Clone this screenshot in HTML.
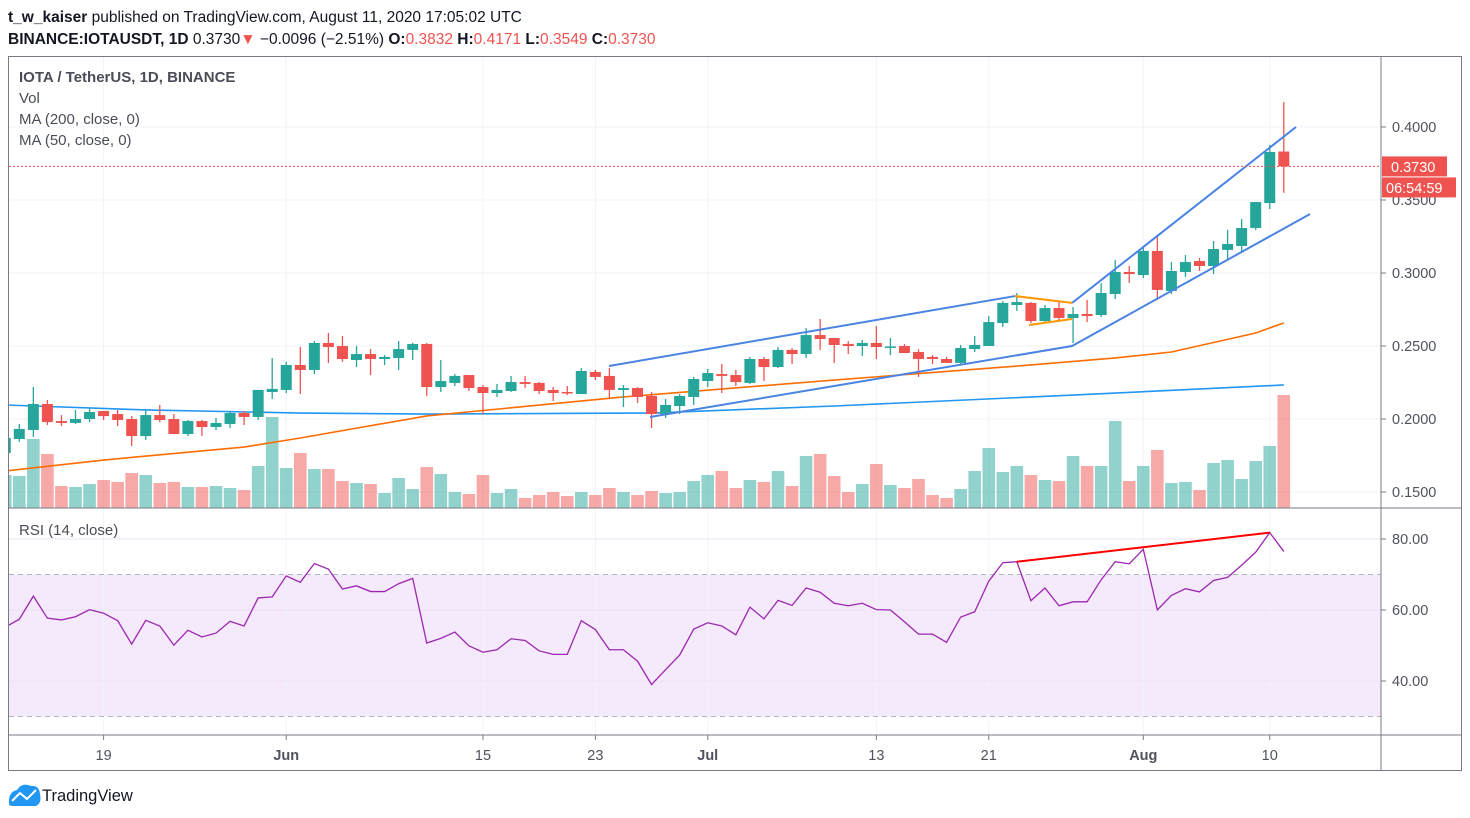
<!DOCTYPE html>
<html><head><meta charset="utf-8"><style>
html,body{margin:0;padding:0;background:#fff;width:1470px;height:818px;overflow:hidden}
svg{display:block;font-family:"Liberation Sans",sans-serif}
</style></head><body>
<svg id="chart" width="1470" height="818" viewBox="0 0 1470 818">
<defs>
<clipPath id="pclip"><rect x="9" y="57" width="1372" height="451"/></clipPath>
<clipPath id="rclip"><rect x="9" y="508" width="1372" height="227"/></clipPath>
</defs>
<text x="8" y="22" font-size="15.5" fill="#131722"><tspan font-weight="bold">t_w_kaiser</tspan> published on TradingView.com, August 11, 2020 17:05:02 UTC</text>
<text x="8" y="44" font-size="15.5" fill="#131722"><tspan font-weight="bold">BINANCE:IOTAUSDT, 1D</tspan> 0.3730<tspan fill="#ef5350">▼</tspan> −0.0096 (−2.51%) <tspan font-weight="bold">O:</tspan><tspan fill="#ef5350">0.3832</tspan> <tspan font-weight="bold">H:</tspan><tspan fill="#ef5350">0.4171</tspan> <tspan font-weight="bold">L:</tspan><tspan fill="#ef5350">0.3549</tspan> <tspan font-weight="bold">C:</tspan><tspan fill="#ef5350">0.3730</tspan></text>
<rect x="8.5" y="56.5" width="1453" height="714" fill="none" stroke="#787b86" stroke-width="1"/>
<rect x="9" y="574.5" width="1372" height="142" fill="#f3e5fc" fill-opacity="0.85"/>
<g id="grid"></g>
<g id="vol" clip-path="url(#pclip)"></g>
<g id="ma" clip-path="url(#pclip)"></g>
<g id="candles" clip-path="url(#pclip)"></g>
<g id="draw" clip-path="url(#pclip)"></g>
<g id="rsi" clip-path="url(#rclip)"></g>
<g id="axes"></g>
<text x="19" y="82" font-size="15" font-weight="bold" fill="#4a4d57">IOTA / TetherUS, 1D, BINANCE</text>
<text x="19" y="103" font-size="15" fill="#4a4d57">Vol</text>
<text x="19" y="124" font-size="15" fill="#4a4d57">MA (200, close, 0)</text>
<text x="19" y="145" font-size="15" fill="#4a4d57">MA (50, close, 0)</text>
<text x="19" y="535" font-size="15" fill="#4a4d57">RSI (14, close)</text>
<g>
<path d="M9 804 Q8 792 17 790 Q22 782 31 786 Q39 785 40 794 Q42 803 36 806 L13 806 Q9 806 9 804Z" fill="#2196f3"/>
<polyline points="12,801 20,793 27,799 36,790" fill="none" stroke="#fff" stroke-width="2"/>
<text x="42" y="801" font-size="16.5" fill="#131722">TradingView</text>
</g>
</svg>
<script>
const opens=[0.1767,0.1863,0.1925,0.2103,0.1986,0.1973,0.2000,0.2055,0.2034,0.2000,0.1883,0.2027,0.2000,0.1897,0.1986,0.1945,0.1966,0.2041,0.2014,0.2185,0.2199,0.2370,0.2336,0.2521,0.2500,0.2404,0.2445,0.2411,0.2418,0.2473,0.2514,0.2219,0.2247,0.2301,0.2219,0.2178,0.2192,0.2253,0.2247,0.2199,0.2185,0.2171,0.2322,0.2295,0.2199,0.2212,0.2158,0.2034,0.2089,0.2151,0.2260,0.2308,0.2301,0.2247,0.2411,0.2356,0.2473,0.2445,0.2575,0.2555,0.2514,0.2500,0.2521,0.2490,0.2500,0.2459,0.2425,0.2411,0.2384,0.2479,0.2500,0.2657,0.2781,0.2795,0.2671,0.2760,0.2692,0.2719,0.2712,0.2856,0.3007,0.2986,0.3151,0.2877,0.3007,0.3082,0.3048,0.3158,0.3185,0.3308,0.3479,0.3832];
const highs=[0.1883,0.1966,0.2219,0.2130,0.2027,0.2062,0.2075,0.2055,0.2062,0.2020,0.2062,0.2096,0.2034,0.1993,0.1993,0.2007,0.2048,0.2055,0.2199,0.2418,0.2391,0.2493,0.2534,0.2589,0.2569,0.2500,0.2479,0.2438,0.2534,0.2521,0.2521,0.2404,0.2308,0.2301,0.2233,0.2240,0.2295,0.2295,0.2253,0.2219,0.2226,0.2349,0.2336,0.2349,0.2233,0.2219,0.2185,0.2137,0.2171,0.2288,0.2343,0.2377,0.2336,0.2425,0.2425,0.2493,0.2486,0.2623,0.2685,0.2555,0.2534,0.2541,0.2637,0.2555,0.2514,0.2479,0.2438,0.2425,0.2507,0.2569,0.2705,0.2808,0.2863,0.2801,0.2781,0.2808,0.2767,0.2815,0.2931,0.3089,0.3048,0.3185,0.3254,0.3075,0.3123,0.3103,0.3219,0.3295,0.3370,0.3486,0.3877,0.4171];
const lows=[0.1753,0.1843,0.1877,0.1959,0.1952,0.1966,0.1979,0.1993,0.1952,0.1815,0.1856,0.1979,0.1897,0.1883,0.1883,0.1925,0.1938,0.1959,0.1993,0.2137,0.2178,0.2171,0.2308,0.2384,0.2391,0.2356,0.2301,0.2370,0.2336,0.2404,0.2158,0.2185,0.2226,0.2192,0.2034,0.2151,0.2185,0.2212,0.2171,0.2123,0.2164,0.2171,0.2267,0.2144,0.2082,0.2110,0.1938,0.2007,0.2034,0.2096,0.2219,0.2178,0.2226,0.2240,0.2260,0.2349,0.2377,0.2418,0.2473,0.2384,0.2445,0.2432,0.2411,0.2438,0.2452,0.2288,0.2377,0.2384,0.2377,0.2459,0.2500,0.2630,0.2740,0.2657,0.2657,0.2678,0.2521,0.2664,0.2699,0.2822,0.2932,0.2966,0.2815,0.2856,0.2973,0.3014,0.2993,0.3089,0.3144,0.3295,0.3438,0.3549];
const closes=[0.1870,0.1932,0.2103,0.1979,0.1973,0.2000,0.2048,0.2020,0.1993,0.1883,0.2027,0.1993,0.1897,0.1986,0.1945,0.1973,0.2041,0.2014,0.2199,0.2206,0.2370,0.2336,0.2521,0.2493,0.2411,0.2445,0.2411,0.2425,0.2479,0.2514,0.2219,0.2260,0.2295,0.2212,0.2178,0.2199,0.2253,0.2240,0.2192,0.2178,0.2178,0.2329,0.2288,0.2199,0.2212,0.2151,0.2034,0.2096,0.2158,0.2274,0.2315,0.2295,0.2253,0.2411,0.2356,0.2473,0.2445,0.2575,0.2548,0.2507,0.2500,0.2521,0.2493,0.2497,0.2452,0.2411,0.2411,0.2384,0.2486,0.2507,0.2664,0.2795,0.2801,0.2671,0.2760,0.2692,0.2719,0.2705,0.2863,0.3007,0.2993,0.3151,0.2884,0.3014,0.3075,0.3048,0.3164,0.3199,0.3308,0.3486,0.3829,0.3730];
const volumes=[33,32,69,54,22,21,24,28,26,35,33,25,26,21,21,22,20,18,42,91,40,55,39,39,27,25,24,15,30,19,41,34,16,14,33,15,19,10,13,16,12,16,13,20,16,13,17,15,16,27,33,37,20,28,26,37,22,52,54,32,16,24,44,23,20,29,13,10,19,37,60,36,42,33,28,27,52,42,42,87,27,42,58,25,26,18,45,48,29,47,62,113];
const rsiValues=[55.2,57.4,63.9,57.7,57.2,58.1,60.1,59.1,57.0,50.4,57.1,55.5,50.1,54.3,52.4,53.5,56.8,55.5,63.4,63.7,69.6,67.8,73.1,71.5,65.9,66.8,65.2,65.2,67.4,68.9,50.7,52.0,53.8,49.9,48.1,48.8,51.9,51.4,48.5,47.5,47.5,57.0,54.5,48.8,48.8,45.6,39.0,43.2,47.3,54.6,56.4,55.5,53.0,60.8,57.5,62.7,61.3,66.2,65.0,61.9,61.2,61.9,60.1,60.0,56.7,53.2,53.2,50.9,58.0,59.5,68.1,73.3,73.6,62.6,66.2,61.2,62.3,62.3,68.5,73.6,73.0,77.1,60.0,64.1,66.0,65.1,68.3,69.2,72.6,76.3,81.8,76.5];
const ma200Idx=[-1,9,20,29,45,58,75,90];
const ma200Val=[0.2096,0.2062,0.2041,0.2034,0.2041,0.2089,0.2164,0.2233];
const ma50Idx=[-1,6,16,20,29,43,58,72,78,82,88,90];
const ma50Val=[0.1644,0.1719,0.1808,0.1870,0.2021,0.2151,0.2267,0.2370,0.2418,0.2459,0.2589,0.2658];
const priceTicks=[0.15,0.20,0.25,0.30,0.35,0.40];
const rsiTicks=[40,60,80];
const dateLabels=["19","Jun","15","23","Jul","13","21","Aug","10"];
const dateIdx=[6,19,33,41,49,61,69,80,89];
const monthLabel=[false,true,false,false,true,false,false,true,false];
const lastPrice=0.3730;
const channelUpper=[[41.97,0.2363],[70.87,0.2842]];
const channelUpper2=[[74.93,0.2795],[90.87,0.4000]];
const channelLower=[[44.89,0.2014],[74.93,0.2500],[91.87,0.3404]];
const triTop=[[70.87,0.2842],[74.93,0.2795]];
const triBot=[[71.87,0.2644],[74.93,0.2685]];
const rsiDiv=[[71,73.6],[89,81.8]];

const NS="http://www.w3.org/2000/svg";
const X=i=>19.3+14.05*i;
const Y=p=>127+(0.4-p)*1460;
const YR=v=>539+(80-v)*3.55;
const VOLBASE=508;
function mk(tag,attrs,parent){const e=document.createElementNS(NS,tag);for(const k in attrs)e.setAttribute(k,attrs[k]);document.getElementById(parent).appendChild(e);return e;}
const first=-1;
priceTicks.forEach(p=>{const l=mk('line',{x1:9,x2:1381,y1:Y(p),y2:Y(p),stroke:'#f0f3fa'},'grid');});
rsiTicks.forEach(v=>{const l=mk('line',{x1:9,x2:1381,y1:YR(v),y2:YR(v),stroke:'#ebe3f5'},'grid');});
dateIdx.forEach(i=>{const l=mk('line',{x1:X(i),x2:X(i),y1:57,y2:735,stroke:'#f0f3fa'},'grid');});
[70,30].forEach(v=>{const l=mk('line',{x1:9,x2:1381,y1:YR(v),y2:YR(v),stroke:'#b2b5be','stroke-dasharray':'5,4'},'grid');});
volumes.forEach((v,j)=>{const i=j+first;const up=closes[j]>=opens[j];
 const r=mk('rect',{x:X(i)-6.3,y:VOLBASE-v,width:12.6,height:v,fill:up?'#26a69a':'#ef5350','fill-opacity':0.5},'vol');
 });
function poly(idx,val,color,name){const pts=idx.map((i,j)=>X(i)+','+Y(val[j])).join(' ');const p=mk('polyline',{points:pts,fill:'none',stroke:color,'stroke-width':1.6},'ma');}
poly(ma200Idx,ma200Val,'#2196f3','ma200-line');
poly(ma50Idx,ma50Val,'#ff6d00','ma50-line');
opens.forEach((o,j)=>{const i=j+first;const c=closes[j];const up=c>=o;const col=up?'#26a69a':'#ef5350';
 const g=mk('g',{},'candles');
 const w=document.createElementNS(NS,'line');w.setAttribute('x1',X(i));w.setAttribute('x2',X(i));w.setAttribute('y1',Y(highs[j]));w.setAttribute('y2',Y(lows[j]));w.setAttribute('stroke',col);w.setAttribute('stroke-width',1.3);g.appendChild(w);
 const b=document.createElementNS(NS,'rect');const t=Math.min(Y(o),Y(c));b.setAttribute('x',X(i)-5.5);b.setAttribute('y',t);b.setAttribute('width',11);b.setAttribute('height',Math.max(1.5,Math.abs(Y(o)-Y(c))));b.setAttribute('fill',col);g.appendChild(b);});
function dl(pts,color,name,w){const p=mk('polyline',{points:pts.map(q=>X(q[0])+','+Y(q[1])).join(' '),fill:'none',stroke:color,'stroke-width':w||2},'draw');}
dl(channelUpper,'#4a84e3','trendline-upper');
dl(channelUpper2,'#4a84e3','channel-upper');
dl(channelLower,'#4a84e3','channel-lower');
dl(triTop,'#ff9800','pennant-top');
dl(triBot,'#ff9800','pennant-bottom');
const pl=mk('line',{x1:9,x2:1381,y1:Y(lastPrice),y2:Y(lastPrice),stroke:'#ef5350','stroke-dasharray':'2,2'},'draw');

const rl=mk('polyline',{points:rsiValues.map((v,j)=>X(j+first)+','+YR(v)).join(' '),fill:'none',stroke:'#9c27b0','stroke-width':1.3},'rsi');

const rd=mk('polyline',{points:rsiDiv.map(q=>X(q[0])+','+YR(q[1])).join(' '),fill:'none',stroke:'#ff0000','stroke-width':2},'rsi');

[[1381,57,1381,771],[9,508,1462,508],[9,735,1462,735]].forEach(a=>{const l=mk('line',{x1:a[0],y1:a[1],x2:a[2],y2:a[3],stroke:'#787b86'},'axes');});
priceTicks.forEach(p=>{const t=mk('text',{x:1392,y:Y(p)+5,'font-size':14.5,fill:'#50535e'},'axes');t.textContent=p.toFixed(4);
 mk('line',{x1:1381,x2:1386,y1:Y(p),y2:Y(p),stroke:'#787b86'},'axes');});
rsiTicks.forEach(v=>{const t=mk('text',{x:1392,y:YR(v)+5,'font-size':14.5,fill:'#50535e'},'axes');t.textContent=v.toFixed(2);
 mk('line',{x1:1381,x2:1386,y1:YR(v),y2:YR(v),stroke:'#787b86'},'axes');});
dateIdx.forEach((i,j)=>{const t=mk('text',{x:X(i),y:760,'font-size':14.5,fill:'#50535e','text-anchor':'middle','font-weight':monthLabel[j]?'bold':'normal'},'axes');t.textContent=dateLabels[j];
 mk('line',{x1:X(i),x2:X(i),y1:735,y2:740,stroke:'#787b86'},'axes');});
const tg=mk('rect',{x:1382,y:Y(lastPrice)-10,width:65,height:20,fill:'#ef5350'},'axes');
const tt=mk('text',{x:1391,y:Y(lastPrice)+5.5,'font-size':14.5,fill:'#fff'},'axes');tt.textContent=lastPrice.toFixed(4);
const cg=mk('rect',{x:1382,y:Y(lastPrice)+11,width:74,height:20,fill:'#ef5350'},'axes');
const ct=mk('text',{x:1386,y:Y(lastPrice)+26.5,'font-size':14.5,fill:'#fff'},'axes');ct.textContent='06:54:59';
</script>
</body></html>
